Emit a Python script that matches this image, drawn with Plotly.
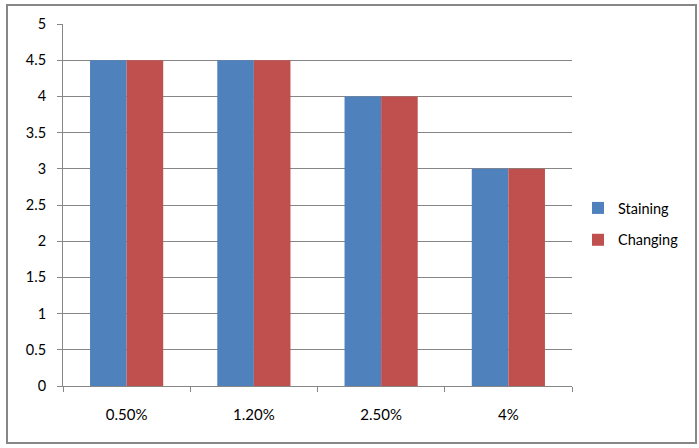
import plotly.graph_objects as go

categories = ["0.50%", "1.20%", "2.50%", "4%"]
staining = [4.5, 4.5, 4.0, 3.0]
changing = [4.5, 4.5, 4.0, 3.0]
series_names = ["Staining", "Changing"]
y_ticks = [0, 0.5, 1, 1.5, 2, 2.5, 3, 3.5, 4, 4.5, 5]
y_tick_text = ["0", "0.5", "1", "1.5", "2", "2.5", "3", "3.5", "4", "4.5", "5"]

W, H = 699, 448
L, R, T, B = 63, 127, 24, 62
pw, ph = W - L - R, H - T - B

def px_x(x):
    return (x - L) / pw

def px_y(y):
    return (H - B - y) / ph

FONT = "Lato"
GRID = "#868686"

fig = go.Figure()
fig.add_trace(go.Bar(x=categories, y=staining, name=series_names[0],
                     marker=dict(color="#4F81BD", line=dict(width=0)),
                     legendgroup="a"))
fig.add_trace(go.Bar(x=categories, y=changing, name=series_names[1],
                     marker=dict(color="#C0504D", line=dict(width=0)),
                     legendgroup="b"))

fig.update_layout(
    width=W, height=H,
    margin=dict(l=L, r=R, t=T, b=B, pad=0),
    paper_bgcolor="white", plot_bgcolor="white",
    barmode="group", bargap=0.425, bargroupgap=0,
    font=dict(family=FONT, size=14, color="#000000"),
    showlegend=True,
    legend=dict(x=px_x(578), y=px_y(224), xanchor="left", yanchor="middle",
                font=dict(family=FONT, size=14.5, color="#000000"),
                itemwidth=30, tracegroupgap=10, traceorder="grouped",
                bgcolor="rgba(0,0,0,0)"),
    xaxis=dict(type="category", showgrid=False, showline=True, linecolor=GRID, linewidth=1,
               ticks="outside", ticklen=5, tickcolor=GRID, tickson="boundaries",
               ticklabelstandoff=15, zeroline=False,
               tickfont=dict(family=FONT, size=15, color="#000000")),
    yaxis=dict(range=[0, 5], tickvals=y_ticks, ticktext=y_tick_text,
               showgrid=True, gridcolor=GRID, gridwidth=1,
               showline=True, linecolor=GRID, linewidth=1,
               ticks="outside", ticklen=5, tickcolor=GRID,
               ticklabelstandoff=8, zeroline=False,
               tickfont=dict(family=FONT, size=14.5, color="#000000")),
    shapes=[dict(type="rect", xref="paper", yref="paper",
                 x0=px_x(7), x1=px_x(696), y0=px_y(443), y1=px_y(5),
                 line=dict(color="#878787", width=2), fillcolor="rgba(0,0,0,0)",
                 layer="below")],
)

fig.write_html("out.html", config={"displayModeBar": False},
               post_script="document.body.style.margin='0px';")
